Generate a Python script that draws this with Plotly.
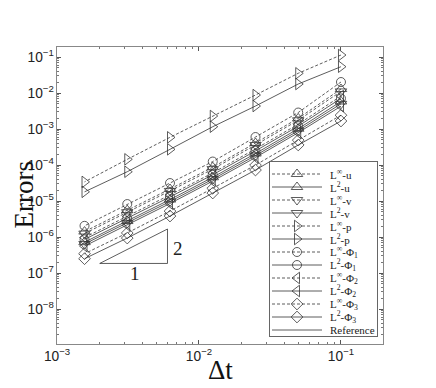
import plotly.graph_objects as go

dt = [0.1, 0.05, 0.025, 0.0125, 0.00625, 0.003125, 0.0015625]

linf_u = [0.0129, 0.00198, 4.10e-4, 8.7e-5, 2.16e-5, 5.58e-6, 1.42e-6]
l2_u = [0.00581, 0.00102, 2.09e-4, 4.57e-5, 1.10e-5, 2.78e-6, 7.2e-7]
linf_v = [0.0111, 0.00175, 3.61e-4, 7.71e-5, 1.91e-5, 4.9e-6, 1.25e-6]
l2_v = [0.00501, 8.97e-4, 1.84e-4, 4.05e-5, 9.7e-6, 2.44e-6, 6.4e-7]
linf_p = [0.1136, 0.0353, 0.00880, 0.00230, 5.88e-4, 1.44e-4, 3.4e-5]
l2_p = [0.0538, 0.0178, 0.00435, 0.00116, 2.73e-4, 6.52e-5, 1.8e-5]
linf_phi1 = [0.0202, 0.00287, 6.0e-4, 1.25e-4, 3.16e-5, 8.25e-6, 2.05e-6]
l2_phi1 = [0.00708, 0.00120, 2.47e-4, 5.37e-5, 1.30e-5, 3.31e-6, 8.6e-7]
linf_phi2 = [0.00825, 0.00136, 2.81e-4, 6.05e-5, 1.48e-5, 3.77e-6, 9.7e-7]
l2_phi2 = [0.0043, 7.92e-4, 1.62e-4, 3.59e-5, 8.55e-6, 2.14e-6, 5.6e-7]
linf_phi3 = [0.00242, 4.92e-4, 9.97e-5, 2.26e-5, 5.26e-6, 1.30e-6, 3.45e-7]
l2_phi3 = [0.00167, 3.60e-4, 7.26e-5, 1.67e-5, 3.83e-6, 9.38e-7, 2.5e-7]

ref_x = [0.002, 0.006, 0.006, 0.002]
ref_y = [1.85e-7, 1.85e-7, 1.67e-6, 1.85e-7]

labels = ["L<sup>∞</sup>-u", "L<sup>2</sup>-u", "L<sup>∞</sup>-v", "L<sup>2</sup>-v",
          "L<sup>∞</sup>-p", "L<sup>2</sup>-p",
          "L<sup>∞</sup>-Φ<sub>1</sub>", "L<sup>2</sup>-Φ<sub>1</sub>",
          "L<sup>∞</sup>-Φ<sub>2</sub>", "L<sup>2</sup>-Φ<sub>2</sub>",
          "L<sup>∞</sup>-Φ<sub>3</sub>", "L<sup>2</sup>-Φ<sub>3</sub>", "Reference"]

series = [linf_u, l2_u, linf_v, l2_v, linf_p, l2_p, linf_phi1, l2_phi1,
          linf_phi2, l2_phi2, linf_phi3, l2_phi3]
symbols = ["triangle-up-open", "triangle-up-open", "triangle-down-open", "triangle-down-open",
           "triangle-right-open", "triangle-right-open", "circle-open", "circle-open",
           "triangle-left-open", "triangle-left-open", "diamond-open", "diamond-open"]
sizes = [10, 10, 10, 10, 10, 10, 9, 9, 10, 10, 9, 9]

C = "#333333"
DASH = "3px,2px"

fig = go.Figure()
for i, ys in enumerate(series):
    dash = DASH if i % 2 == 0 else "solid"
    fig.add_trace(go.Scatter(
        x=dt, y=ys, mode="lines+markers", showlegend=False,
        line=dict(color=C, width=0.8, dash=dash),
        marker=dict(symbol=symbols[i], size=sizes[i], color=C, line=dict(width=0.8, color=C)),
    ))
fig.add_trace(go.Scatter(x=ref_x, y=ref_y, mode="lines", showlegend=False,
                         line=dict(color=C, width=0.8)))

# manual legend in an inset axis (units ~ pixels)
LX0, LX1, LY0, LY1 = 270, 377, 162, 336
W, H = 436, 388
ML, MR, MT, MB = 57, 53, 47, 44
pw, ph = W - ML - MR, H - MT - MB
for i, lab in enumerate(labels):
    yy = 12 + 13 * i
    if i < 12:
        dash = DASH if i % 2 == 0 else "solid"
        fig.add_trace(go.Scatter(x=[2, 52], y=[yy, yy], mode="lines", showlegend=False,
                                 line=dict(color=C, width=0.8, dash=dash), xaxis="x2", yaxis="y2"))
        fig.add_trace(go.Scatter(x=[27], y=[yy], mode="markers", showlegend=False,
                                 marker=dict(symbol=symbols[i], size=sizes[i], color=C,
                                             line=dict(width=0.8, color=C)),
                                 xaxis="x2", yaxis="y2"))
    else:
        fig.add_trace(go.Scatter(x=[2, 52], y=[yy, yy], mode="lines", showlegend=False,
                                 line=dict(color=C, width=0.8), xaxis="x2", yaxis="y2"))
    fig.add_annotation(x=58, y=yy, xref="x2", yref="y2", text=lab, showarrow=False,
                       xanchor="left", yanchor="middle",
                       font=dict(family="Liberation Serif", size=11, color="#222"))

fig.add_annotation(x=-2.451, y=-7.0, xref="x", yref="y", text="1", showarrow=False,
                   font=dict(family="Liberation Serif", size=19, color="#222"))
fig.add_annotation(x=-2.150, y=-6.32, xref="x", yref="y", text="2", showarrow=False,
                   font=dict(family="Liberation Serif", size=19, color="#222"))

# axis titles
fig.add_annotation(x=0.5, y=(H - MB - 370) / ph, xref="paper", yref="paper", text="Δt",
                   showarrow=False, xanchor="center", yanchor="middle",
                   font=dict(family="Liberation Serif", size=27, color="#111"))
fig.add_annotation(x=(23 - ML) / pw, y=0.5, xref="paper", yref="paper", text="Errors",
                   showarrow=False, xanchor="center", yanchor="middle", textangle=-90,
                   font=dict(family="Liberation Serif", size=27, color="#111"))

axcommon = dict(showline=True, linecolor="#888", linewidth=1, mirror="allticks",
                ticks="inside", ticklen=4, tickcolor="#555", showgrid=False, zeroline=False,
                tickfont=dict(family="Liberation Sans", size=11, color="#222"),
                exponentformat="power", dtick=1, automargin=False,
                minor=dict(ticks="inside", ticklen=2, tickcolor="#777", showgrid=False))

fig.update_layout(
    width=W, height=H, margin=dict(l=ML, r=MR, t=MT, b=MB, autoexpand=False),
    paper_bgcolor="white", plot_bgcolor="white",
    xaxis=dict(type="log", range=[-3, -0.704], **axcommon),
    yaxis=dict(type="log", range=[-8.97, -0.722], **axcommon),
    xaxis2=dict(domain=[(LX0 - ML) / pw, (LX1 - ML) / pw], range=[0, LX1 - LX0], anchor="y2",
                showline=True, mirror=True, linecolor="#666", linewidth=1, showgrid=False,
                zeroline=False, showticklabels=False, ticks=""),
    yaxis2=dict(domain=[(H - MB - LY1) / ph, (H - MB - LY0) / ph], range=[LY1 - LY0, 0], anchor="x2",
                showline=True, mirror=True, linecolor="#666", linewidth=1, showgrid=False,
                zeroline=False, showticklabels=False, ticks=""),
)

fig.write_html("out.html", config={"displayModeBar": False},
               post_script="document.body.style.margin='0';document.body.style.overflow='hidden';")
